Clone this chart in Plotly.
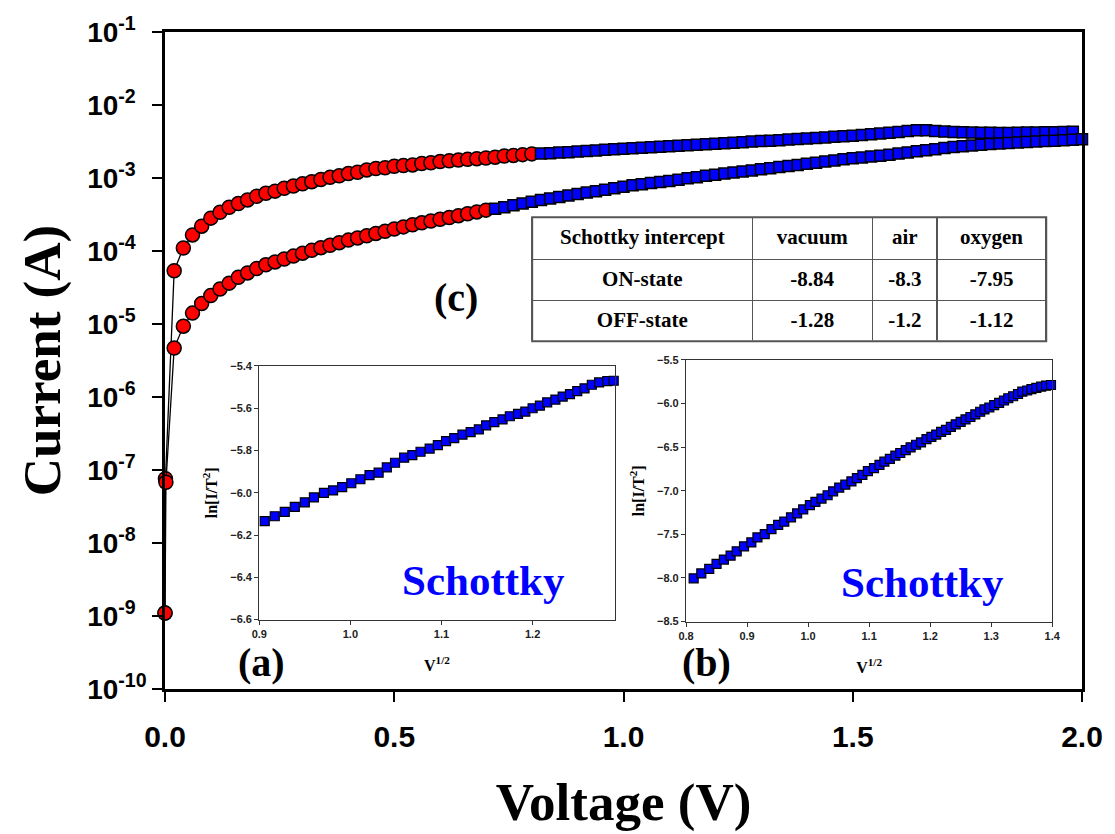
import plotly.graph_objects as go

# ---------------- main I-V data (Voltage in V, Current in A) ----------------
on_v_red = [0.0, 0.001, 0.02, 0.04, 0.06, 0.08, 0.10, 0.12, 0.14, 0.16, 0.18, 0.20,
            0.22, 0.24, 0.26, 0.28, 0.30, 0.32, 0.34, 0.36, 0.38, 0.40,
            0.42, 0.44, 0.46, 0.48, 0.50, 0.52, 0.54, 0.56, 0.58, 0.60,
            0.62, 0.64, 0.66, 0.68, 0.70, 0.72, 0.74, 0.76, 0.78, 0.80]
on_i_red = [1.1e-9, 7.6e-8, 5.37e-5, 1.10e-4, 1.66e-4, 2.19e-4, 2.82e-4, 3.39e-4, 3.98e-4, 4.47e-4, 5.01e-4, 5.62e-4,
            6.17e-4, 6.61e-4, 7.24e-4, 7.76e-4, 8.32e-4, 8.91e-4, 9.55e-4, 1.02e-3, 1.07e-3, 1.15e-3,
            1.20e-3, 1.29e-3, 1.35e-3, 1.38e-3, 1.45e-3, 1.48e-3, 1.51e-3, 1.58e-3, 1.62e-3, 1.68e-3,
            1.72e-3, 1.76e-3, 1.80e-3, 1.84e-3, 1.88e-3, 1.93e-3, 2.00e-3, 2.04e-3, 2.09e-3, 2.14e-3]

on_v_blue = [0.82, 0.84, 0.86, 0.88, 0.90, 0.92, 0.94, 0.96, 0.98, 1.00,
             1.02, 1.04, 1.06, 1.08, 1.10, 1.12, 1.14, 1.16, 1.18, 1.20,
             1.22, 1.24, 1.26, 1.28, 1.30, 1.32, 1.34, 1.36, 1.38, 1.40,
             1.42, 1.44, 1.46, 1.48, 1.50, 1.52, 1.54, 1.56, 1.58, 1.60,
             1.62, 1.64, 1.66, 1.68, 1.70, 1.72, 1.74, 1.76, 1.78, 1.80,
             1.82, 1.84, 1.86, 1.88, 1.90, 1.92, 1.94, 1.96, 1.98]
on_i_blue = [2.16e-3, 2.19e-3, 2.23e-3, 2.26e-3, 2.30e-3, 2.34e-3, 2.39e-3, 2.43e-3, 2.47e-3, 2.51e-3,
             2.55e-3, 2.59e-3, 2.64e-3, 2.68e-3, 2.72e-3, 2.77e-3, 2.81e-3, 2.86e-3, 2.90e-3, 2.95e-3,
             3.00e-3, 3.05e-3, 3.10e-3, 3.15e-3, 3.20e-3, 3.25e-3, 3.30e-3, 3.36e-3, 3.41e-3, 3.47e-3,
             3.53e-3, 3.60e-3, 3.66e-3, 3.73e-3, 3.80e-3, 3.89e-3, 3.98e-3, 4.07e-3, 4.17e-3, 4.27e-3,
             4.42e-3, 4.52e-3, 4.52e-3, 4.42e-3, 4.32e-3, 4.27e-3, 4.22e-3, 4.19e-3, 4.17e-3, 4.17e-3,
             4.15e-3, 4.15e-3, 4.17e-3, 4.19e-3, 4.21e-3, 4.23e-3, 4.25e-3, 4.27e-3, 4.29e-3]

off_v_red = [0.0, 0.002, 0.02, 0.04, 0.06, 0.08, 0.10, 0.12, 0.14, 0.16, 0.18, 0.20,
             0.22, 0.24, 0.26, 0.28, 0.30, 0.32, 0.34, 0.36, 0.38, 0.40,
             0.42, 0.44, 0.46, 0.48, 0.50, 0.52, 0.54, 0.56, 0.58, 0.60,
             0.62, 0.64, 0.66, 0.68, 0.70]
off_i_red = [1.1e-9, 6.8e-8, 4.68e-6, 9.33e-6, 1.41e-5, 1.91e-5, 2.45e-5, 3.02e-5, 3.63e-5, 4.37e-5, 5.01e-5, 5.75e-5,
             6.46e-5, 7.08e-5, 7.76e-5, 8.51e-5, 9.33e-5, 1.02e-4, 1.11e-4, 1.20e-4, 1.30e-4, 1.41e-4,
             1.51e-4, 1.62e-4, 1.74e-4, 1.86e-4, 2.00e-4, 2.14e-4, 2.29e-4, 2.43e-4, 2.57e-4, 2.72e-4,
             2.88e-4, 3.05e-4, 3.24e-4, 3.43e-4, 3.63e-4]

off_v_blue = [0.72, 0.74, 0.76, 0.78, 0.80, 0.82, 0.84, 0.86, 0.88, 0.90,
              0.92, 0.94, 0.96, 0.98, 1.00, 1.02, 1.04, 1.06, 1.08, 1.10,
              1.12, 1.14, 1.16, 1.18, 1.20, 1.22, 1.24, 1.26, 1.28, 1.30,
              1.32, 1.34, 1.36, 1.38, 1.40, 1.42, 1.44, 1.46, 1.48, 1.50,
              1.52, 1.54, 1.56, 1.58, 1.60, 1.62, 1.64, 1.66, 1.68, 1.70,
              1.72, 1.74, 1.76, 1.78, 1.80, 1.82, 1.84, 1.86, 1.88, 1.90,
              1.92, 1.94, 1.96, 1.98, 2.00]
off_i_blue = [3.80e-4, 3.98e-4, 4.22e-4, 4.47e-4, 4.73e-4, 5.01e-4, 5.25e-4, 5.50e-4, 5.75e-4, 6.03e-4,
              6.31e-4, 6.61e-4, 6.92e-4, 7.24e-4, 7.59e-4, 7.94e-4, 8.22e-4, 8.51e-4, 8.81e-4, 9.12e-4,
              9.44e-4, 9.89e-4, 1.02e-3, 1.07e-3, 1.11e-3, 1.15e-3, 1.19e-3, 1.23e-3, 1.27e-3, 1.32e-3,
              1.36e-3, 1.41e-3, 1.46e-3, 1.51e-3, 1.57e-3, 1.62e-3, 1.68e-3, 1.74e-3, 1.80e-3, 1.86e-3,
              1.91e-3, 1.97e-3, 2.02e-3, 2.09e-3, 2.16e-3, 2.24e-3, 2.32e-3, 2.40e-3, 2.48e-3, 2.57e-3,
              2.66e-3, 2.72e-3, 2.79e-3, 2.85e-3, 2.92e-3, 2.97e-3, 3.02e-3, 3.07e-3, 3.12e-3, 3.16e-3,
              3.21e-3, 3.25e-3, 3.30e-3, 3.34e-3, 3.39e-3]

main_x_ticks = [0.0, 0.5, 1.0, 1.5, 2.0]
main_y_ticks = [1e-10, 1e-9, 1e-8, 1e-7, 1e-6, 1e-5, 1e-4, 1e-3, 1e-2, 1e-1]
main_y_ticktext = ["10<sup>-10</sup>", "10<sup>-9\u2007</sup>", "10<sup>-8\u2007</sup>", "10<sup>-7\u2007</sup>",
                   "10<sup>-6\u2007</sup>", "10<sup>-5\u2007</sup>", "10<sup>-4\u2007</sup>", "10<sup>-3\u2007</sup>",
                   "10<sup>-2\u2007</sup>", "10<sup>-1\u2007</sup>"]

# ---------------- inset (a): ln(I/T^2) vs V^1/2 ----------------
a_x = [0.906, 0.917, 0.928, 0.939, 0.950, 0.960, 0.971, 0.981, 0.991, 1.001, 1.011, 1.021, 1.031, 1.040,
       1.049, 1.059, 1.068, 1.077, 1.087, 1.096, 1.105, 1.114, 1.123, 1.132, 1.141, 1.149, 1.158, 1.167,
       1.175, 1.184, 1.192, 1.200, 1.208, 1.216, 1.225, 1.233, 1.241, 1.249, 1.257, 1.265, 1.273, 1.282, 1.289]
a_y = [-6.134, -6.111, -6.090, -6.067, -6.045, -6.022, -6.000, -5.989, -5.973, -5.955, -5.936, -5.916,
       -5.905, -5.880, -5.858, -5.834, -5.822, -5.806, -5.791, -5.775, -5.756, -5.741, -5.725, -5.713,
       -5.700, -5.681, -5.666, -5.653, -5.638, -5.627, -5.616, -5.600, -5.588, -5.572, -5.559, -5.545,
       -5.533, -5.519, -5.506, -5.489, -5.478, -5.472, -5.470]
a_x_ticks = [0.9, 1.0, 1.1, 1.2]
a_y_ticks = [-6.6, -6.4, -6.2, -6.0, -5.8, -5.6, -5.4]

# ---------------- inset (b) ----------------
b_x = [0.8125, 0.825, 0.838, 0.850, 0.862, 0.873, 0.883, 0.895, 0.907, 0.917, 0.929, 0.940, 0.951,
       0.961, 0.972, 0.982, 0.992, 1.003, 1.012, 1.022, 1.032, 1.041, 1.051, 1.061, 1.071, 1.080,
       1.089, 1.098, 1.108, 1.117, 1.125, 1.134, 1.143, 1.151, 1.160, 1.168, 1.177, 1.185, 1.194,
       1.202, 1.210, 1.218, 1.226, 1.234, 1.242, 1.250, 1.258, 1.266, 1.274, 1.282, 1.289, 1.297,
       1.305, 1.313, 1.321, 1.328, 1.336, 1.344, 1.351, 1.359, 1.366, 1.374, 1.382, 1.390, 1.398]
b_y = [-8.004, -7.948, -7.895, -7.838, -7.789, -7.743, -7.694, -7.637, -7.592, -7.535, -7.497, -7.440,
       -7.392, -7.354, -7.305, -7.259, -7.214, -7.165, -7.127, -7.089, -7.051, -7.006, -6.964, -6.930,
       -6.892, -6.854, -6.817, -6.775, -6.741, -6.703, -6.665, -6.635, -6.597, -6.567, -6.533, -6.502,
       -6.472, -6.446, -6.408, -6.381, -6.355, -6.325, -6.302, -6.268, -6.238, -6.211, -6.181, -6.154,
       -6.124, -6.094, -6.067, -6.045, -6.018, -5.992, -5.965, -5.939, -5.916, -5.890, -5.863, -5.850,
       -5.835, -5.820, -5.805, -5.795, -5.787]
b_x_ticks = [0.8, 0.9, 1.0, 1.1, 1.2, 1.3, 1.4]
b_y_ticks = [-8.5, -8.0, -7.5, -7.0, -6.5, -6.0, -5.5]

# ---------------- table (c) ----------------
table_header = ["Schottky intercept", "vacuum", "air", "oxygen"]
table_states = ["ON-state", "OFF-state"]
on_intercepts = ["-8.84", "-8.3", "-7.95"]
off_intercepts = ["-1.28", "-1.2", "-1.12"]

SANS = "Liberation Sans, Arial, sans-serif"
SERIF = "Liberation Serif, Times New Roman, serif"
RED = "#ff0000"
BLUE = "#0000ff"

def bold(items):
    return ["<b>" + s + "</b>" for s in items]

fig = go.Figure()

red_marker = dict(symbol="circle", size=14, color=RED, line=dict(color="black", width=1.5))
blue_marker = dict(symbol="square", size=11, color=BLUE, line=dict(color="black", width=1.5))
conn = dict(color="black", width=1.3)

fig.add_trace(go.Scatter(x=on_v_red, y=on_i_red, mode="lines+markers", marker=red_marker,
                         line=conn, cliponaxis=False, showlegend=False))
fig.add_trace(go.Scatter(x=off_v_red, y=off_i_red, mode="lines+markers", marker=red_marker,
                         line=conn, cliponaxis=False, showlegend=False))
fig.add_trace(go.Scatter(x=on_v_blue, y=on_i_blue, mode="lines+markers", marker=blue_marker,
                         line=conn, cliponaxis=False, showlegend=False))
fig.add_trace(go.Scatter(x=off_v_blue, y=off_i_blue, mode="lines+markers", marker=blue_marker,
                         line=conn, cliponaxis=False, showlegend=False))

inset_marker = dict(symbol="square", size=9, color=BLUE, line=dict(color="black", width=1.2))
fig.add_trace(go.Scatter(x=a_x, y=a_y, mode="markers", marker=inset_marker, xaxis="x2", yaxis="y2",
                         cliponaxis=False, showlegend=False))
fig.add_trace(go.Scatter(x=b_x, y=b_y, mode="markers", marker=inset_marker, xaxis="x3", yaxis="y3",
                         cliponaxis=False, showlegend=False))

TBL_X = [0.4004, 0.961]
TBL_Y = [0.5294, 0.718]
fig.add_trace(go.Table(
    domain=dict(x=TBL_X, y=TBL_Y),
    columnwidth=[222, 121, 65, 110],
    header=dict(values=bold(table_header), height=42, align="center",
                fill=dict(color="white"), line=dict(color="#555555", width=1.5),
                font=dict(family=SERIF, size=21, color="black")),
    cells=dict(values=[bold(table_states), bold([on_intercepts[0], off_intercepts[0]]),
                       bold([on_intercepts[1], off_intercepts[1]]), bold([on_intercepts[2], off_intercepts[2]])],
               height=41, align="center",
               fill=dict(color="white"), line=dict(color="#555555", width=1.5),
               font=dict(family=SERIF, size=21, color="black")),
))
fig.add_shape(type="rect", xref="paper", yref="paper", x0=TBL_X[0], x1=TBL_X[1], y0=TBL_Y[0], y1=TBL_Y[1],
              line=dict(color="#555555", width=2), fillcolor="rgba(0,0,0,0)", layer="above")

inset_tick_font = dict(family=SANS, size=11, color="#222222", weight="bold")
inset_title_font = dict(family=SERIF, size=16, color="black")

fig.update_layout(
    width=1115, height=834,
    margin=dict(l=165, r=26, t=26, b=145),
    paper_bgcolor="white", plot_bgcolor="white",
    xaxis=dict(range=[0, 2], tickvals=main_x_ticks, tickformat=".1f", ticks="outside", ticklen=10,
               tickwidth=2, tickcolor="black", showline=True, linecolor="black", linewidth=2.5, mirror=True,
               showgrid=False, zeroline=False, ticklabelstandoff=9,
               tickfont=dict(family=SANS, size=30, color="black", weight="bold"),
               title=dict(text="<b>Voltage (V)</b>", standoff=32,
                          font=dict(family=SERIF, size=53, color="black"))),
    yaxis=dict(type="log", range=[-10, -1], tickvals=main_y_ticks, ticktext=main_y_ticktext,
               ticks="outside", ticklen=10, tickwidth=2, tickcolor="black", showline=True,
               linecolor="black", linewidth=2.5, mirror=True, showgrid=False, zeroline=False,
               tickfont=dict(family=SANS, size=28, color="black", weight="bold"),
               title=dict(text="<b>Current (A)</b>", standoff=10,
                          font=dict(family=SERIF, size=53, color="black"))),
    xaxis2=dict(domain=[0.1028, 0.4903], anchor="y2", range=[0.9, 1.29], tickvals=a_x_ticks,
                tickformat=".1f", ticks="outside", ticklen=4, tickcolor="#333333", showline=True,
                linecolor="#333333", linewidth=1.2, mirror=True, showgrid=False, zeroline=False,
                tickfont=inset_tick_font,
                title=dict(text="<b>V<sup>1/2</sup></b>", standoff=20, font=inset_title_font)),
    yaxis2=dict(domain=[0.1056, 0.4917], anchor="x2", range=[-6.6, -5.4], tickvals=a_y_ticks,
                tickformat=".1f", ticks="outside", ticklen=4, tickcolor="#333333", showline=True,
                linecolor="#333333", linewidth=1.2, mirror=True, showgrid=False, zeroline=False,
                tickfont=inset_tick_font,
                title=dict(text="<b>ln[I/T<sup>2</sup>]</b>", standoff=8, font=inset_title_font)),
    xaxis3=dict(domain=[0.5682, 0.9675], anchor="y3", range=[0.8, 1.4], tickvals=b_x_ticks,
                tickformat=".1f", ticks="outside", ticklen=4, tickcolor="#333333", showline=True,
                linecolor="#333333", linewidth=1.2, mirror=True, showgrid=False, zeroline=False,
                tickfont=inset_tick_font,
                title=dict(text="<b>V<sup>1/2</sup></b>", standoff=20, font=inset_title_font)),
    yaxis3=dict(domain=[0.1026, 0.5008], anchor="x3", range=[-8.5, -5.5], tickvals=b_y_ticks,
                tickformat=".1f", ticks="outside", ticklen=4, tickcolor="#333333", showline=True,
                linecolor="#333333", linewidth=1.2, mirror=True, showgrid=False, zeroline=False,
                tickfont=inset_tick_font,
                title=dict(text="<b>ln[I/T<sup>2</sup>]</b>", standoff=8, font=inset_title_font)),
)

fig.add_annotation(x=1.146, y=-6.416, xref="x2", yref="y2", text="<b>Schottky</b>", showarrow=False,
                   xanchor="center", yanchor="middle", font=dict(family=SERIF, size=43, color=BLUE))
fig.add_annotation(x=1.187, y=-8.057, xref="x3", yref="y3", text="<b>Schottky</b>", showarrow=False,
                   xanchor="center", yanchor="middle", font=dict(family=SERIF, size=43, color=BLUE))
for lbl, px, py in [("(a)", 0.105, 0.0407), ("(b)", 0.591, 0.0407), ("(c)", 0.317, 0.596)]:
    fig.add_annotation(x=px, y=py, xref="paper", yref="paper", text="<b>" + lbl + "</b>", showarrow=False,
                       xanchor="center", yanchor="middle", font=dict(family=SERIF, size=40, color="black"))

fig.write_html("out.html")
